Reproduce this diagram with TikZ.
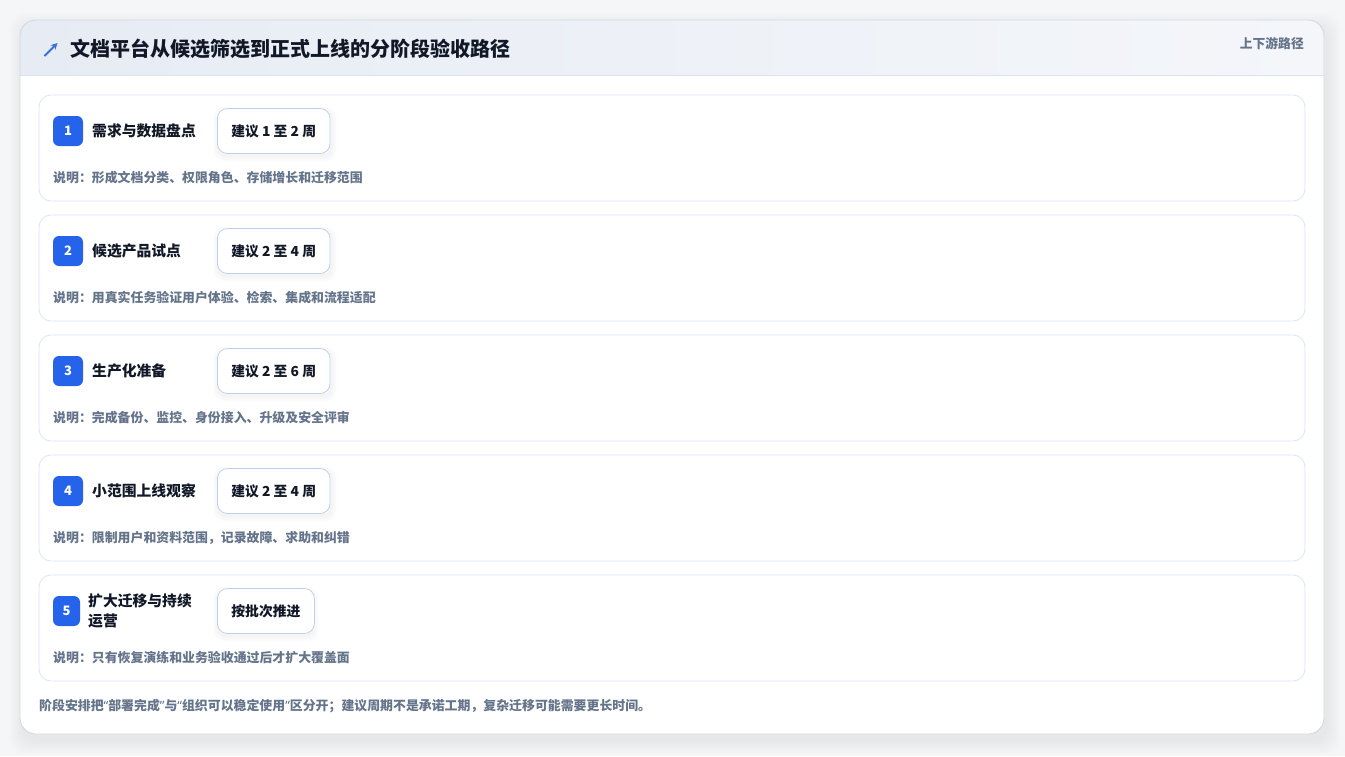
\documentclass[tikz,border=0pt]{standalone}
\usepackage{fontspec}
\setmainfont{Noto Sans CJK SC}
\newfontfamily\qfont{Noto Sans}
\usetikzlibrary{arrows.meta}
\definecolor{pagebg}{HTML}{F5F6F8}
\definecolor{cardline}{HTML}{D3D9E2}
\definecolor{hdrL}{HTML}{E7ECF4}
\definecolor{hdrR}{HTML}{F4F6FA}
\definecolor{hdrline}{HTML}{DCE3ED}
\definecolor{boxline}{HTML}{DCE5F1}
\definecolor{badgeblue}{HTML}{2563EB}
\definecolor{pillline}{HTML}{BFD2EC}
\definecolor{ink}{HTML}{111827}
\definecolor{muted}{HTML}{64748B}
\definecolor{iconblue}{HTML}{3B6FD8}
\newcommand{\myLQ}{{\qfont\bfseries “}}
\newcommand{\myRQ}{{\qfont\bfseries ”}}
\tikzset{
  stagebox/.style={draw=boxline, line width=0.8pt, fill=white, rounded corners=12pt, minimum width=1266pt, minimum height=106pt, inner sep=0pt},
  badge/.style={fill=badgeblue, text=white, rounded corners=6pt, minimum width=30pt, minimum height=30pt, inner sep=0pt, font=\fontsize{13}{15}\selectfont\bfseries},
  stitle/.style={anchor=west, inner sep=0pt, text=ink, font=\fontsize{14.8}{20}\selectfont\bfseries, align=left},
  pill/.style={anchor=west, draw=pillline, line width=0.8pt, fill=white, rounded corners=10pt, minimum height=45pt, inner xsep=14pt, inner ysep=0pt, text=ink, font=\fontsize{13.8}{16}\selectfont\bfseries},
  desc/.style={anchor=west, inner sep=0pt, text=muted, font=\fontsize{12.9}{15}\selectfont\bfseries},
}
\begin{document}
\begin{tikzpicture}[x=1pt,y=-1pt]
\useasboundingbox (0,0) rectangle (1345,756);
\fill[pagebg] (0,0) rectangle (1345,756);
% card shadow
\foreach \i in {1,...,14}{
  \fill[black, opacity=0.0045, rounded corners=16pt] (20-\i+3,20-\i+7) rectangle (1324+\i+3,734+\i+7);
}
\fill[white, rounded corners=16pt] (20,20) rectangle (1324,734);
\begin{scope}
  \clip[rounded corners=16pt] (20,20) rectangle (1324,734);
  \shade[left color=hdrL, right color=hdrR] (20,20) rectangle (1324,75);
\end{scope}
\draw[hdrline, line width=0.8pt] (20,75.5) -- (1324,75.5);
\draw[cardline, line width=0.9pt, rounded corners=16pt] (20,20) rectangle (1324,734);
% header
\coordinate (ia) at (44.5,56);
\coordinate (ib) at (57.5,43);
\draw[iconblue, line width=1.8pt, -{Stealth[length=6.5pt,width=6.5pt]}] (ia) -- (ib);
\node[anchor=west, inner sep=0pt, text=ink, font=\fontsize{20}{22}\selectfont\bfseries] (htitle) at (70,49) {文档平台从候选筛选到正式上线的分阶段验收路径};
\node[anchor=east, inner sep=0pt, text=muted, font=\fontsize{12.8}{15}\selectfont\bfseries] (hright) at (1304,44) {上下游路径};
% stages
\foreach \n/\y/\t/\p/\d in {
  1/95/需求与数据盘点/建议 1 至 2 周/说明：形成文档分类、权限角色、存储增长和迁移范围,
  2/215/候选产品试点/建议 2 至 4 周/说明：用真实任务验证用户体验、检索、集成和流程适配,
  3/335/生产化准备/建议 2 至 6 周/说明：完成备份、监控、身份接入、升级及安全评审,
  4/455/小范围上线观察/建议 2 至 4 周/说明：限制用户和资料范围，记录故障、求助和纠错}{
  \node[stagebox] (s\n) at (672,\y+53) {};
  \node[badge] (b\n) at (68,\y+36) {\n};
  \node[stitle] (t\n) at (92,\y+36) {\t};
  \foreach \k in {1,...,5}{
    \fill[black, opacity=0.007, rounded corners=10pt] (217-\k+1,\y+13.5-\k+3) rectangle (217+\k+115,\y+58.5+\k+3);
  }
  \node[pill] (p\n) at (217,\y+36) {\p};
  \node[desc] (d\n) at (53,\y+83) {\d};
}
% stage 5
\node[stagebox] (s5) at (672,628) {};
\node[badge, minimum width=27pt] (b5) at (66.5,611) {5};
\node[stitle] (t5) at (88,611) {扩大迁移与持续\\运营};
\foreach \k in {1,...,5}{
  \fill[black, opacity=0.007, rounded corners=10pt] (217-\k+1,588.5-\k+3) rectangle (314+\k,633.5+\k+3);
}
\node[pill] (p5) at (217,611) {按批次推进};
\node[desc] (d5) at (53,658) {说明：只有恢复演练和业务验收通过后才扩大覆盖面};
% footer
\node[desc] (foot) at (39,706) {阶段安排把\myLQ 部署完成\myRQ 与\myLQ 组织可以稳定使用\myRQ 区分开；建议周期不是承诺工期，复杂迁移可能需要更长时间。};
\end{tikzpicture}
\end{document}
